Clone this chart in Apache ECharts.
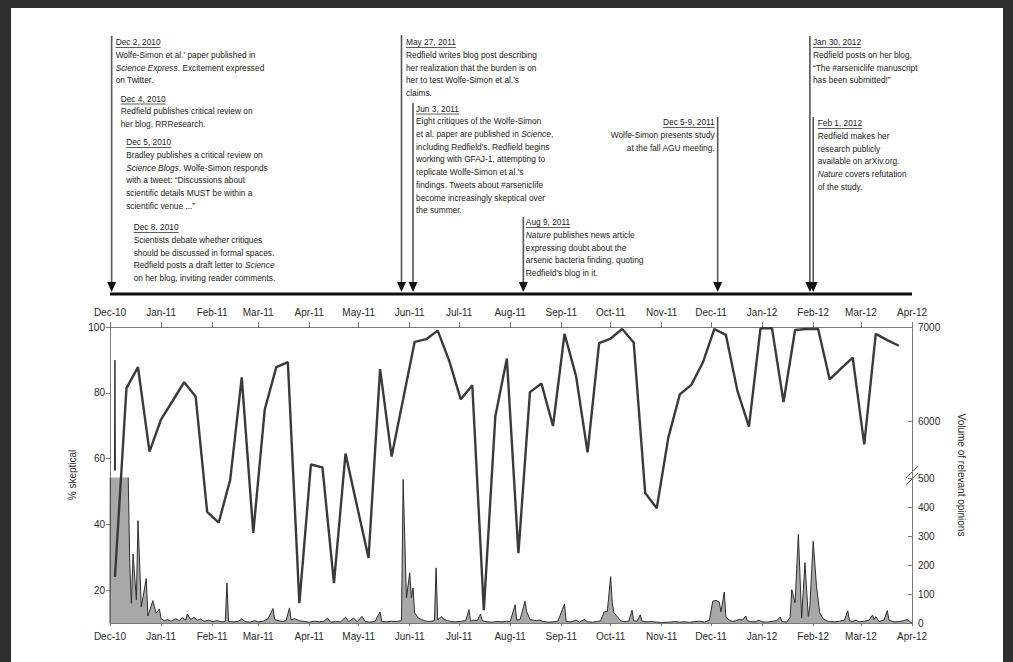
<!DOCTYPE html>
<html><head><meta charset="utf-8">
<script src="https://cdn.jsdelivr.net/npm/echarts@6/dist/echarts.min.js"></script>
<style>
html,body{margin:0;padding:0;background:#fff;width:1013px;height:662px;overflow:hidden;}
.fr{position:absolute;background:#2f2f2f;}
#chart{position:absolute;left:0;top:0;width:1013px;height:662px;}
</style></head>
<body>
<div class="fr" style="left:0;top:0;width:1013px;height:8px"></div>
<div class="fr" style="left:0;top:0;width:11px;height:662px"></div>
<div class="fr" style="left:1003px;top:0;width:10px;height:662px"></div>
<div id="chart"></div>
<script>
// ---- data ----
const monthTicks = ['2010-12-01','2011-01-01','2011-02-01','2011-03-01','2011-04-01','2011-05-01','2011-06-01','2011-07-01','2011-08-01','2011-09-01','2011-10-01','2011-11-01','2011-12-01','2012-01-01','2012-02-01','2012-03-01','2012-04-01'];
const monthNames = ['Jan','Feb','Mar','Apr','May','Jun','Jul','Aug','Sep','Oct','Nov','Dec'];
const leftTicks = [20,40,60,80,100];
const upperRightTicks = [6000,7000];

// weekly % skeptical, first week starting 4 Dec 2010
const skepticalStart = '2010-12-04';
const skepticalPct = [24,81.4,87.8,62.1,71.9,77.5,83.2,78.9,43.8,40.5,53.6,84.7,37.4,75,87.8,89.3,16,58.2,57.3,22.1,61.5,45.6,29.8,87.2,60.6,78,95.5,96.3,98.9,89.7,78,82.3,13.9,72.9,90.4,31.2,80.2,82.8,69.9,97.9,85.1,61.9,95.1,96.5,99.4,95.3,49.5,44.9,66.3,79.5,82.4,89.2,99.4,97.6,80.6,69.7,99.6,99.6,77.2,99.1,99.4,99.4,84.1,87.4,90.7,64.3,97.9,96,94.3];

// daily volume of relevant opinions: [days since 1 Dec 2010, volume]
const volumeStart = '2010-12-01';
const volumeByDay = [[0,0],[1,3000],[2,3000],[3,6650],[4,3000],[5,2000],[7,1500],[9,1000],[10,700],[11,520],[12,206],[13,68],[14,238],[16,80],[17,353],[19,56],[22,153],[23,24],[26,77],[28,34],[30,48],[31,15],[33,8],[35,12],[37,6],[40,15],[42,8],[44,18],[46,10],[47,31],[49,12],[51,20],[53,9],[55,14],[57,6],[60,10],[62,5],[65,8],[68,4],[70,6],[71,138],[72,5],[75,4],[78,6],[80,14],[82,5],[85,3],[88,8],[90,4],[93,6],[96,15],[99,50],[100,12],[102,8],[105,5],[107,10],[109,52],[110,10],[112,15],[115,8],[118,5],[121,3],[124,6],[127,4],[130,6],[132,17],[134,3],[137,5],[140,4],[143,20],[145,5],[148,17],[150,4],[153,23],[155,5],[158,3],[161,6],[164,38],[165,5],[168,4],[171,6],[174,5],[177,8],[178,495],[180,86],[182,173],[183,87],[184,121],[185,35],[187,18],[189,12],[191,8],[193,5],[195,6],[197,8],[198,190],[199,10],[201,22],[203,12],[205,8],[207,5],[210,4],[213,6],[216,8],[218,46],[219,6],[221,10],[223,8],[225,31],[226,8],[229,4],[232,3],[235,5],[238,4],[241,6],[243,5],[246,63],[247,10],[249,12],[252,75],[253,40],[255,12],[257,10],[259,8],[261,10],[263,5],[266,3],[269,4],[272,6],[276,66],[277,5],[280,4],[283,10],[285,3],[288,12],[290,4],[293,3],[296,5],[298,8],[300,38],[302,40],[304,160],[305,70],[306,35],[308,22],[310,8],[312,5],[315,6],[317,44],[318,8],[320,6],[322,28],[323,6],[326,4],[329,5],[332,3],[335,2],[340,3],[343,5],[346,3],[349,4],[352,2],[355,5],[358,6],[361,3],[364,10],[366,75],[368,78],[370,72],[371,38],[373,107],[374,20],[376,10],[378,5],[380,8],[382,12],[384,10],[386,24],[387,8],[389,5],[392,4],[394,10],[396,4],[399,3],[402,6],[405,8],[407,21],[408,5],[411,3],[413,20],[414,115],[416,70],[418,306],[420,17],[422,208],[424,23],[425,60],[427,282],[429,127],[431,35],[433,15],[435,8],[437,5],[440,4],[443,6],[446,10],[448,42],[449,8],[451,5],[453,10],[455,4],[458,6],[461,10],[463,27],[464,12],[465,22],[467,5],[470,10],[472,43],[473,10],[476,4],[479,5],[482,8],[484,12],[486,4],[487,0]];

// timeline events (arrow date, top of the arrow line)
const eventDates = ['2010-12-02','2011-05-27','2011-06-03','2011-08-09','2011-12-05','2012-01-30','2012-02-01'];
const eventTops = [36,35,103,217,117,36,117];

// annotation blocks: [event index, heading, lines]
const notes = [
 [0,'Dec 2, 2010',['Wolfe-Simon et al.\' paper published in','{i|Science Express}. Excitement expressed','on Twitter.']],
 [0,'Dec 4, 2010',['Redfield publishes critical review on','her blog, RRResearch.']],
 [0,'Dec 5, 2010',['Bradley publishes a critical review on','{i|Science Blogs}. Wolfe-Simon responds','with a tweet: \u201cDiscussions about','scientific details MUST be within a','scientific venue ...\u201d']],
 [0,'Dec 8, 2010',['Scientists debate whether critiques','should be discussed in formal spaces.','Redfield posts a draft letter to {i|Science}','on her blog, inviting reader comments.']],
 [1,'May 27, 2011',['Redfield writes blog post describing','her realization that the burden is on','her to test Wolfe-Simon et al.\'s','claims.']],
 [2,'Jun 3, 2011',['Eight critiques of the Wolfe-Simon','et al. paper are published in {i|Science},','including Redfield\'s. Redfield begins','working with GFAJ-1, attempting to','replicate Wolfe-Simon et al.\'s','findings. Tweets about #arseniclife','become increasingly skeptical over','the summer.']],
 [3,'Aug 9, 2011',['{i|Nature} publishes news article','expressing doubt about the','arsenic bacteria finding, quoting','Redfield\'s blog in it.']],
 [4,'Dec 5-9, 2011',['Wolfe-Simon presents study','at the fall AGU meeting.']],
 [5,'Jan 30, 2012',['Redfield posts on her blog,','\u201cThe #arseniclife manuscript','has been submitted!\u201d']],
 [6,'Feb 1, 2012',['Redfield makes her','research publicly','available on arXiv.org.','{i|Nature} covers refutation','of the study.']]
];
// ---- layout (not data) ----
const noteLayout = [[4,42,'left'],[9,98.5,'left'],[14.5,142,'left'],[22,227,'left'],[4.5,42,'left'],[3,108.5,'left'],[2.5,222,'left'],[-3,122,'right'],[3,42,'left'],[4.5,123,'left']];

function parseDate(s, addDays){ const p=s.split('-').map(Number); return new Date(p[0],p[1]-1,p[2]+(addDays||0)).getTime(); }
const tMin = parseDate(monthTicks[0]);
const tMax = parseDate(monthTicks[monthTicks.length-1]);
const tickTs = monthTicks.map(s=>parseDate(s));
const pctData = skepticalPct.map((v,k)=>[parseDate(skepticalStart,7*k), v]);
const volData = volumeByDay.map(p=>[parseDate(volumeStart,p[0]), p[1]]);
function fmtMonth(v){ const d=new Date(v); return monthNames[d.getMonth()]+'-'+String(d.getFullYear()%100).padStart(2,'0'); }
const plain = v => String(v);

const AX='#7a7a7a', TXT='#2a2a2a', FONT='"Liberation Sans", Arial, sans-serif';
const lbl = {fontFamily:FONT,fontSize:10,color:TXT};

function dateAxis(grid, pos, show, margin, tlen){
  return {type:'value', gridIndex:grid, position:pos, min:tMin, max:tMax, show:show, scale:true,
    axisLine:{show:true,onZero:false,lineStyle:{color:AX,width:1}},
    axisTick:{show:true,customValues:tickTs,length:tlen,lineStyle:{color:AX}},
    axisLabel:Object.assign({show:true,customValues:tickTs,formatter:fmtMonth,margin:margin,hideOverlap:false,showMinLabel:true,showMaxLabel:true},lbl),
    splitLine:{show:false}, minorTick:{show:false}};
}

const chart = echarts.init(document.getElementById('chart'), null, {renderer:'svg'});
chart.setOption({
  animation:false,
  backgroundColor:'transparent',
  grid:[
    {left:110, top:327, width:802, height:296},
    {left:110, top:327, width:802, height:143},
    {left:110, top:478, width:802, height:145}
  ],
  xAxis:[
    dateAxis(0,'bottom',true,8,3),
    dateAxis(0,'top',true,10,5),
    dateAxis(1,'bottom',false,8,3),
    dateAxis(2,'bottom',false,8,3)
  ],
  yAxis:[
    {type:'value', gridIndex:0, position:'left', min:10, max:100,
     axisLine:{show:true,lineStyle:{color:AX,width:1}},
     axisTick:{show:true,customValues:leftTicks,length:4,lineStyle:{color:AX}},
     axisLabel:Object.assign({customValues:leftTicks,margin:5,formatter:plain},lbl),
     splitLine:{show:false},
     name:'% skeptical', nameLocation:'middle', nameGap:32,
     nameTextStyle:{fontFamily:FONT,fontSize:10,color:TXT}},
    {type:'value', gridIndex:0, position:'right', min:10, max:100,
     axisLine:{show:true,lineStyle:{color:AX,width:1}},
     axisTick:{show:false}, axisLabel:{show:false}, splitLine:{show:false},
     name:'Volume of relevant opinions', nameLocation:'middle', nameRotate:-90, nameGap:44,
     nameTextStyle:{fontFamily:FONT,fontSize:10,color:TXT}},
    {type:'value', gridIndex:1, position:'right', min:5490, max:7000,
     axisLine:{show:false},
     axisTick:{show:true,inside:true,customValues:upperRightTicks,length:4,lineStyle:{color:AX}},
     axisLabel:Object.assign({customValues:upperRightTicks,margin:6,formatter:plain},lbl),
     splitLine:{show:false}},
    {type:'value', gridIndex:2, position:'right', min:0, max:500, interval:100,
     axisLine:{show:false},
     axisTick:{show:true,inside:true,length:4,lineStyle:{color:AX}},
     axisLabel:Object.assign({margin:6,formatter:plain},lbl),
     splitLine:{show:false}}
  ],
  series:[
    {type:'line', name:'volume-upper', xAxisIndex:2, yAxisIndex:2, data:volData, symbol:'none', clip:true,
     lineStyle:{width:1,color:'#2e2e2e'}, z:2},
    {type:'line', name:'volume', xAxisIndex:3, yAxisIndex:3, data:volData, symbol:'none', clip:true,
     lineStyle:{width:1,color:'#2e2e2e'}, areaStyle:{color:'#a8a8a8',opacity:1}, z:2},
    {type:'line', name:'% skeptical', xAxisIndex:0, yAxisIndex:0, data:pctData, symbol:'none',
     lineStyle:{width:2.4,color:'#3a3a3a'}, z:5}
  ]
});

// timeline + annotations
const NSIZE = 9.5;
const NFONT = FONT;
const ctx = document.createElement('canvas').getContext('2d');
ctx.font = NSIZE+'px '+NFONT;
// condense the annotation font so that the reference line width (~140px) is matched
const SX = 140 / ctx.measureText(notes[0][2][0]).width;
const g = [];
const px = t => chart.convertToPixel({xAxisIndex:0}, t);
const lineY = 294;
g.push({type:'line', shape:{x1:px(tMin), y1:lineY, x2:px(tMax), y2:lineY}, style:{stroke:'#111', lineWidth:3}, silent:true});
const evX = eventDates.map(s=>px(parseDate(s)));
evX.forEach((x,i)=>{
  g.push({type:'line', shape:{x1:x, y1:eventTops[i], x2:x, y2:286}, style:{stroke:'#555', lineWidth:1.6}, silent:true});
  g.push({type:'polygon', shape:{points:[[x-4.5,282],[x+4.5,282],[x,292]]}, style:{fill:'#111'}, silent:true});
});
const rich = {i:{fontStyle:'italic', fontFamily:NFONT, fontSize:NSIZE, fill:'#222'}};
notes.forEach((n,j)=>{
  const lay = noteLayout[j];
  const x = evX[n[0]] + lay[0], y = lay[1], align = lay[2];
  const w = ctx.measureText(n[1]).width * SX;
  g.push({type:'text', x:x, y:y, scaleX:SX, style:{text:n[1], fontFamily:NFONT, fontSize:NSIZE, fill:'#222', align:align, verticalAlign:'middle'}, silent:true});
  const ux1 = align==='right' ? x-w : x;
  g.push({type:'line', shape:{x1:ux1, y1:y+5.5, x2:ux1+w, y2:y+5.5}, style:{stroke:'#333', lineWidth:0.8}, silent:true});
  n[2].forEach((t,i)=>{
    g.push({type:'text', x:x, y:y+12.7*(i+1), scaleX:SX, style:{text:t, fontFamily:NFONT, fontSize:NSIZE, fill:'#222', align:align, verticalAlign:'middle', rich:rich}, silent:true});
  });
});
// axis break marks on right axis
const bx = 912;
g.push({type:'line', shape:{x1:bx-6, y1:478, x2:bx+6, y2:466}, style:{stroke:'#444', lineWidth:1}, silent:true});
g.push({type:'line', shape:{x1:bx-6, y1:485, x2:bx+6, y2:473}, style:{stroke:'#444', lineWidth:1}, silent:true});
chart.setOption({graphic:g});
</script>
</body></html>
